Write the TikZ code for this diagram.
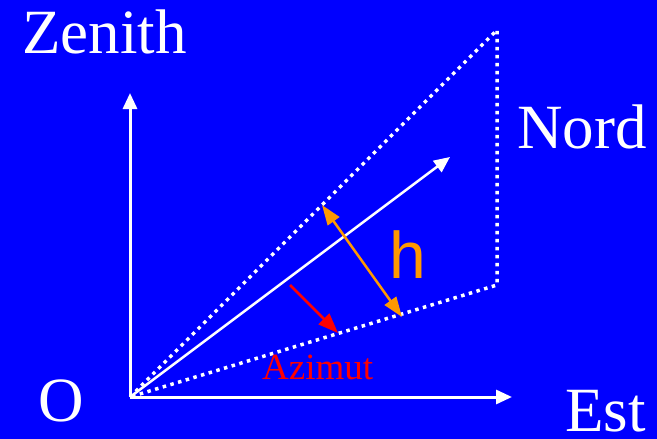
\documentclass[tikz,border=0pt]{standalone}
\usepackage{fontspec}
\setmainfont{Liberation Serif}
\newfontfamily\hfont{Liberation Sans}
\usetikzlibrary{arrows.meta}
\definecolor{bg}{RGB}{0,0,255}
\definecolor{org}{RGB}{255,153,0}
\begin{document}
\begin{tikzpicture}[x=1pt,y=-1pt,
  axis/.style={white,line width=3pt,-{Triangle[length=16pt,width=14pt]}},
  dotline/.style={white,line width=3.5pt,dash pattern=on 3.5pt off 4.5pt},
  lbl/.style={anchor=base west,inner sep=0pt,text depth=0pt,text=white,font=\fontsize{63}{63}\selectfont}]
\fill[bg] (0,0) rectangle (657,439);
\useasboundingbox (0,0) rectangle (657,439);
\coordinate (O) at (130,397);
\coordinate (Z) at (130,93);
\coordinate (E) at (512,397);
\coordinate (T) at (497,30);
\coordinate (B) at (497,285);
\coordinate (S) at (450,157);
\coordinate (h1) at (322,205);
\coordinate (h2) at (402,317);
\coordinate (r1) at (290,285);
\coordinate (r2) at (338,333);
\draw[dotline] (O) -- (T) -- (B) -- cycle;
\draw[axis] (O) -- (Z);
\draw[axis] (O) -- (E);
\draw[white,line width=2.5pt,-{Triangle[length=16pt,width=14pt]}] (O) -- (S);
\draw[org,line width=2.5pt,{Triangle[length=20pt,width=14pt]}-{Triangle[length=20pt,width=14pt]}] (h1) -- (h2);
\draw[red,line width=2.5pt,-{Triangle[length=20pt,width=15pt]}] (r1) -- (r2);
\node[lbl] (zen) at (22,53) {Zenith};
\node[lbl] (nord) at (517,148) {Nord};
\node[lbl] (est) at (565,431) {Est};
\node[lbl] (o) at (38,421) {O};
\node[anchor=base west,inner sep=0pt,text=red,font=\fontsize{37}{37}\selectfont] (az) at (262,379) {Azimut};
\node[anchor=base west,inner sep=0pt,text=org,font=\hfont\fontsize{66}{66}\selectfont] (h) at (389,278) {h};
\end{tikzpicture}
\end{document}
